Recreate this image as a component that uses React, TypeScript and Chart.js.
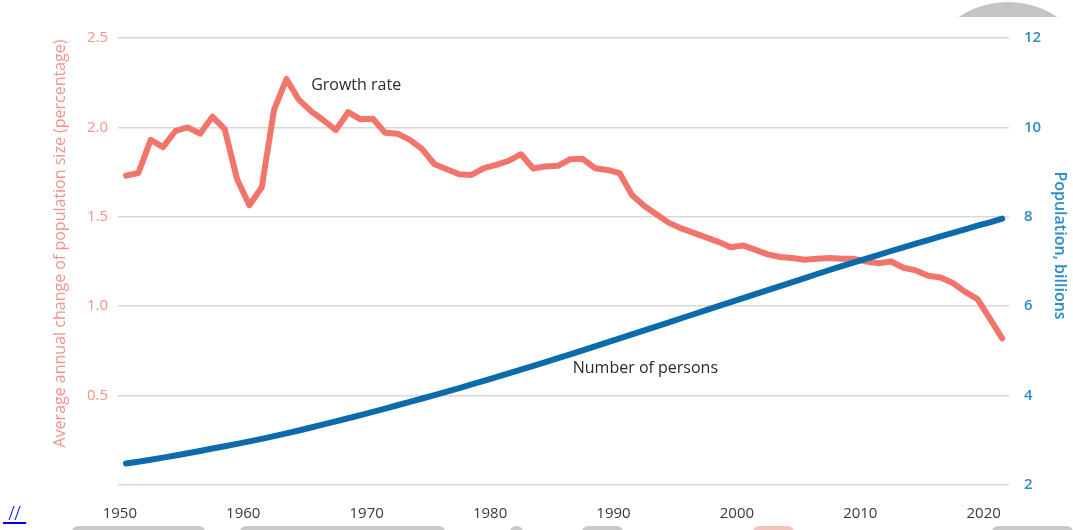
import React, { useEffect, useRef } from "react";
import { Chart, registerables } from "chart.js";

Chart.register(...registerables);

// ---------- data ----------
const years = [
  1950, 1951, 1952, 1953, 1954, 1955, 1956, 1957, 1958, 1959,
  1960, 1961, 1962, 1963, 1964, 1965, 1966, 1967, 1968, 1969,
  1970, 1971, 1972, 1973, 1974, 1975, 1976, 1977, 1978, 1979,
  1980, 1981, 1982, 1983, 1984, 1985, 1986, 1987, 1988, 1989,
  1990, 1991, 1992, 1993, 1994, 1995, 1996, 1997, 1998, 1999,
  2000, 2001, 2002, 2003, 2004, 2005, 2006, 2007, 2008, 2009,
  2010, 2011, 2012, 2013, 2014, 2015, 2016, 2017, 2018, 2019,
  2020, 2021,
];

// Average annual change of population size (percentage)
const growthRate = [
  1.73, 1.745, 1.93, 1.89, 1.98, 2.0, 1.965, 2.06, 1.99, 1.71,
  1.565, 1.665, 2.1, 2.27, 2.155, 2.09, 2.04, 1.985, 2.085, 2.045,
  2.048, 1.97, 1.965, 1.93, 1.878, 1.794, 1.766, 1.738, 1.734, 1.772,
  1.79, 1.813, 1.85, 1.77, 1.782, 1.785, 1.822, 1.824, 1.772, 1.762,
  1.744, 1.622, 1.56, 1.513, 1.466, 1.435, 1.41, 1.385, 1.36, 1.33,
  1.34, 1.315, 1.29, 1.275, 1.27, 1.26, 1.265, 1.27, 1.265, 1.265,
  1.25, 1.24, 1.25, 1.215, 1.2, 1.17, 1.16, 1.13, 1.08, 1.04,
  0.93, 0.82,
];

// Population, billions
const population = [
  2.48, 2.522, 2.566, 2.612, 2.66, 2.71, 2.762, 2.815, 2.868, 2.92,
  2.975, 3.032, 3.092, 3.155, 3.22, 3.287, 3.355, 3.424, 3.494, 3.565,
  3.637, 3.71, 3.784, 3.859, 3.935, 4.012, 4.09, 4.169, 4.249, 4.33,
  4.412, 4.495, 4.579, 4.664, 4.75, 4.837, 4.924, 5.012, 5.1, 5.19,
  5.28, 5.37, 5.46, 5.55, 5.64, 5.73, 5.82, 5.91, 6.0, 6.09,
  6.18, 6.27, 6.36, 6.45, 6.54, 6.63, 6.72, 6.81, 6.895, 6.98,
  7.065, 7.15, 7.235, 7.318, 7.4, 7.48, 7.56, 7.64, 7.72, 7.8,
  7.875, 7.96,
];

const xTickYears = [1950, 1960, 1970, 1980, 1990, 2000, 2010, 2020];
const leftTicks = [0, 0.5, 1.0, 1.5, 2.0, 2.5];
const rightTicks = [2, 4, 6, 8, 10, 12];

const leftTitle = "Average annual change of population size (percentage)";
const rightTitle = "Population, billions";
const growthLabel = { text: "Growth rate", year: 1965.5, value: 2.237 };
const personsLabel = { text: "Number of persons", year: 1986.7, value: 4.6 };

// ---------- styles ----------
const FONT = "'Open Sans', 'Noto Sans', sans-serif";
const RED = "#f2756b";
const BLUE = "#0b6bab";
const LEFT_TEXT = "#f4948a";
const RIGHT_TEXT = "#2e8cc8";
const GRID = "#d9d9d9";

const overlayPlugin = {
  id: "overlayText",
  afterDraw(chart: any) {
    const { ctx, chartArea, scales } = chart;
    const midY = (chartArea.top + chartArea.bottom) / 2 - 18;
    ctx.save();
    // left axis title
    ctx.save();
    ctx.translate(chartArea.left - 58, midY);
    ctx.rotate(-Math.PI / 2);
    ctx.font = `16px ${FONT}`;
    ctx.fillStyle = LEFT_TEXT;
    ctx.textAlign = "center";
    ctx.textBaseline = "middle";
    ctx.fillText(leftTitle, 0, 0);
    ctx.restore();
    // right axis title
    ctx.save();
    ctx.translate(chartArea.right + 51, midY + 2);
    ctx.rotate(Math.PI / 2);
    ctx.font = `600 16px ${FONT}`;
    ctx.fillStyle = RIGHT_TEXT;
    ctx.textAlign = "center";
    ctx.textBaseline = "middle";
    ctx.fillText(rightTitle, 0, 0);
    ctx.restore();
    // in-plot labels
    ctx.font = `16px ${FONT}`;
    ctx.fillStyle = "#2b2b2b";
    ctx.textAlign = "left";
    ctx.textBaseline = "middle";
    ctx.fillText(
      growthLabel.text,
      scales.x.getPixelForValue(growthLabel.year),
      scales.yLeft.getPixelForValue(growthLabel.value)
    );
    ctx.fillText(
      personsLabel.text,
      scales.x.getPixelForValue(personsLabel.year),
      scales.yRight.getPixelForValue(personsLabel.value)
    );
    ctx.restore();
  },
};

function PopulationChart() {
  const canvasRef = useRef<HTMLCanvasElement | null>(null);

  useEffect(() => {
    if (!canvasRef.current) return;
    const chart = new Chart(canvasRef.current, {
      type: "line",
      data: {
        datasets: [
          {
            label: "Number of persons",
            data: years.map((y, i) => ({ x: y + 0.5, y: population[i] })),
            yAxisID: "yRight",
            borderColor: BLUE,
            borderWidth: 6,
            borderCapStyle: "round",
            borderJoinStyle: "round",
            pointRadius: 0,
            tension: 0,
            order: 0,
          },
          {
            label: "Growth rate",
            data: years.map((y, i) => ({ x: y + 0.5, y: growthRate[i] })),
            yAxisID: "yLeft",
            borderColor: RED,
            borderWidth: 6,
            borderCapStyle: "round",
            borderJoinStyle: "round",
            pointRadius: 0,
            tension: 0,
            order: 1,
          },
        ],
      },
      options: {
        animation: false,
        responsive: false,
        devicePixelRatio: 1,
        layout: { padding: { top: 38, bottom: 0, left: 0, right: 0 } },
        plugins: {
          legend: { display: false },
          tooltip: { enabled: false },
        },
        events: [],
        scales: {
          x: {
            type: "linear",
            min: 1949.85,
            max: 2022.05,
            afterBuildTicks: (scale: any) => {
              scale.ticks = xTickYears.map((v) => ({ value: v }));
            },
            afterFit: (scale: any) => {
              scale.height = 45;
            },
            grid: { display: false, drawTicks: false },
            border: { display: false },
            ticks: {
              padding: 20,
              maxRotation: 0,
              autoSkip: false,
              color: "#3a3a3a",
              font: { family: FONT, size: 15 },
              callback: (v: any) => String(v),
            },
          },
          yLeft: {
            type: "linear",
            position: "left",
            min: 0,
            max: 2.5,
            afterBuildTicks: (scale: any) => {
              scale.ticks = leftTicks.map((v) => ({ value: v }));
            },
            afterFit: (scale: any) => {
              scale.width = 118;
            },
            grid: { color: GRID, lineWidth: 1.5, drawTicks: false },
            border: { display: false },
            ticks: {
              padding: 10,
              color: LEFT_TEXT,
              font: { family: FONT, size: 15 },
              callback: (v: any) => (v === 0 ? "" : Number(v).toFixed(1)),
            },
          },
          yRight: {
            type: "linear",
            position: "right",
            min: 2,
            max: 12,
            afterBuildTicks: (scale: any) => {
              scale.ticks = rightTicks.map((v) => ({ value: v }));
            },
            afterFit: (scale: any) => {
              scale.width = 64;
            },
            grid: { display: false, drawTicks: false },
            border: { display: false },
            ticks: {
              padding: 15,
              color: RIGHT_TEXT,
              font: { family: FONT, size: 15, weight: "600" },
              callback: (v: any) => String(v),
            },
          },
        },
      } as any,
      plugins: [overlayPlugin],
    });
    return () => chart.destroy();
  }, []);

  return <canvas ref={canvasRef} width={1073} height={530} style={{ display: "block" }} />;
}

const bottomShapes = [
  { left: 72, width: 133, color: "#c9c9c9" },
  { left: 240, width: 205, color: "#c9c9c9" },
  { left: 510, width: 13, color: "#c9c9c9" },
  { left: 582, width: 41, color: "#c9c9c9" },
  { left: 753, width: 41, color: "#f6c2bc" },
  { left: 992, width: 81, color: "#c9c9c9" },
];

export default function App() {
  return (
    <div
      style={{
        position: "absolute",
        top: 0,
        left: 0,
        width: 1073,
        height: 530,
        overflow: "hidden",
        background: "#ffffff",
      }}
    >
      <PopulationChart />
      <div
        style={{
          position: "absolute",
          left: 900,
          top: 0,
          width: 173,
          height: 17,
          overflow: "hidden",
        }}
      >
        <div
          style={{
            position: "absolute",
            left: 19,
            top: 2,
            width: 178,
            height: 178,
            borderRadius: "50%",
            background: "#c4c4c4",
          }}
        />
      </div>
      {bottomShapes.map((s, i) => (
        <div
          key={i}
          style={{
            position: "absolute",
            left: s.left,
            top: 526,
            width: s.width,
            height: 12,
            borderRadius: 8,
            background: s.color,
          }}
        />
      ))}
      <a
        href="#"
        style={{
          position: "absolute",
          left: 3,
          top: 500,
          fontSize: 22,
          fontFamily: "serif",
          color: "#0000ee",
        }}
      >
        {"\u00a0//\u00a0"}
      </a>
    </div>
  );
}
